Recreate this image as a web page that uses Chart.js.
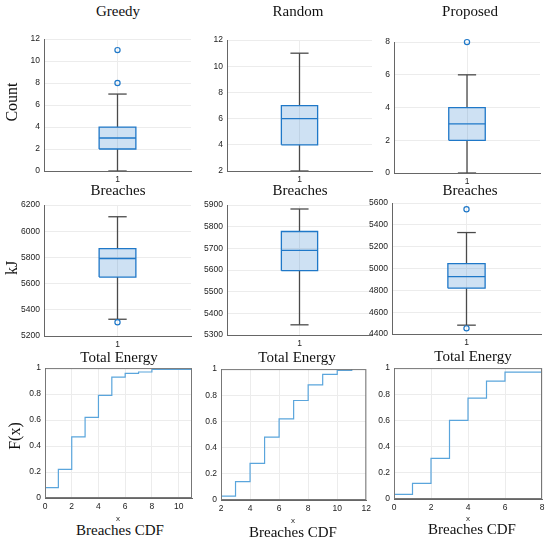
<!DOCTYPE html>
<html>
<head>
<meta charset="utf-8">
<script src="https://cdn.jsdelivr.net/npm/chart.js@4.4.1/dist/chart.umd.min.js"></script>
<style>
    body { margin: 0; background: #fff; width: 550px; height: 542px; position: relative; overflow: hidden;
           font-family: "Liberation Serif", "Times New Roman", serif; }
    canvas { position: absolute; }
    .lbl { position: absolute; transform: translate(-50%, -50%); font-size: 15px; color: #111; white-space: nowrap; }
    .ylbl { transform: translate(-50%, -50%) rotate(-90deg); font-size: 16px; }
    .small { font-family: "Liberation Sans", Arial, sans-serif; font-size: 8px; color: #262626; }
</style>
</head>
<body>
<script>
// Breaches (count) box plots: Greedy, Random, Proposed
const breachQ1 = [2, 4, 2];
const breachMedian = [3, 6, 3];
const breachQ3 = [4, 7, 4];
const breachLow = [0, 2, 0];
const breachHigh = [7, 11, 6];
const breachOutliers = [[8, 11], [], [8]];
const breachAxisMin = [0, 2, 0];
const breachAxisMax = [12, 12, 8];
const breachAxisStep = [2, 2, 2];

// Total energy (kJ) box plots
const energyQ1 = [5650, 5597, 4820];
const energyMedian = [5792, 5691, 4926];
const energyQ3 = [5867, 5778, 5046];
const energyLow = [5328, 5347, 4481];
const energyHigh = [6111, 5882, 5330];
const energyOutliers = [[5305], [], [5543, 4452]];
const energyAxisMin = [5200, 5300, 4400];
const energyAxisMax = [6200, 5900, 5600];
const energyAxisStep = [200, 100, 200];

// Breaches CDF (step points)
const cdfGreedyX = [0, 0, 1, 2, 3, 4, 5, 6, 7, 8, 11];
const cdfGreedyF = [0, 0.08, 0.22, 0.47, 0.62, 0.79, 0.93, 0.96, 0.97, 0.99, 1];
const cdfRandomX = [2, 2, 3, 4, 5, 6, 7, 8, 9, 10, 11];
const cdfRandomF = [0, 0.03, 0.14, 0.28, 0.48, 0.62, 0.76, 0.88, 0.96, 0.99, 1];
const cdfProposedX = [0, 0, 1, 2, 3, 4, 5, 6, 8];
const cdfProposedF = [0, 0.035, 0.12, 0.31, 0.6, 0.77, 0.9, 0.97, 1];
const cdfAxisMin = [0, 2, 0];
const cdfAxisMax = [11, 12, 8];

const BLUE = "#1f78c8";
const BOX_FILL = "rgba(31,120,200,0.22)";
const WHISKER = "#4a4a4a";
const CDF_LINE = "#5aa5dc";
const GRID = "#ececec";
const BOX_HALF = 0.125;
const CAP_HALF = 0.0625;

// canvas margins around the plot area
const PAD_L = 40, PAD_T = 8, PAD_R = 8, PAD_B = 16;

Chart.defaults.font.family = '"Liberation Sans", Arial, sans-serif';
Chart.defaults.font.size = 8.5;
Chart.defaults.color = "#222";

// plot areas [left, top, right, bottom] in page pixels
const boxRects = [
    [[44, 38, 191, 171], [227, 39, 372, 171], [394, 41, 540, 173]],
    [[44, 204, 191, 336], [227, 204, 372, 335], [392, 202, 541, 334]]
];
const cdfRects = [[45, 367, 192, 498], [221, 368, 367, 500], [394, 367, 542, 499]];

function addCanvas(rect) {
    const c = document.createElement("canvas");
    const w = rect[2] - rect[0] + PAD_L + PAD_R;
    const h = rect[3] - rect[1] + PAD_T + PAD_B;
    c.width = w;
    c.height = h;
    c.style.left = (rect[0] - PAD_L) + "px";
    c.style.top = (rect[1] - PAD_T) + "px";
    c.style.width = w + "px";
    c.style.height = h + "px";
    document.body.appendChild(c);
    return c;
}

function segment(points, color, width) {
    return { data: points, showLine: true, borderColor: color, borderWidth: width, pointRadius: 0, fill: false };
}

function boxDatasets(q1, med, q3, lo, hi, outliers) {
    const l = 1 - BOX_HALF, r = 1 + BOX_HALF, cl = 1 - CAP_HALF, cr = 1 + CAP_HALF;
    return [
        {
            data: outliers.map(v => ({ x: 1, y: v })),
            showLine: false, pointRadius: 2.6, pointBorderWidth: 1.2,
            pointBorderColor: BLUE, pointBackgroundColor: "rgba(0,0,0,0)", clip: false
        },
        segment([{ x: l, y: med }, { x: r, y: med }], BLUE, 1.4),
        {
            data: [{ x: l, y: q1 }, { x: r, y: q1 }, { x: r, y: q3 }, { x: l, y: q3 }, { x: l, y: q1 }],
            showLine: true, borderColor: BLUE, borderWidth: 1.3, pointRadius: 0,
            backgroundColor: BOX_FILL, fill: "shape"
        },
        segment([{ x: 1, y: q3 }, { x: 1, y: hi }], WHISKER, 1.3),
        segment([{ x: 1, y: q1 }, { x: 1, y: lo }], WHISKER, 1.3),
        segment([{ x: cl, y: hi }, { x: cr, y: hi }], WHISKER, 1.3),
        segment([{ x: cl, y: lo }, { x: cr, y: lo }], WHISKER, 1.3)
    ];
}

// draws the full axes box around CDF plots
const framePlugin = {
    id: "frame",
    afterDraw(chart, args, opts) {
        if (!opts.show) return;
        const a = chart.chartArea, ctx = chart.ctx;
        ctx.save();
        ctx.strokeStyle = "#777";
        ctx.lineWidth = 1;
        ctx.strokeRect(a.left + 0.5, a.top + 0.5, a.right - a.left - 1, a.bottom - a.top - 1);
        ctx.restore();
    }
};

function makeChart(rect, datasets, xOpts, yOpts, frame) {
    const canvas = addCanvas(rect);
    return new Chart(canvas, {
        type: "scatter",
        data: { datasets: datasets },
        options: {
            responsive: false,
            animation: false,
            layout: { padding: { left: 0, top: PAD_T, right: PAD_R, bottom: 0 } },
            plugins: { legend: { display: false }, tooltip: { enabled: false }, frame: { show: frame } },
            scales: {
                x: Object.assign({
                    type: "linear",
                    grid: { color: GRID, drawTicks: false },
                    border: { display: true, color: "#666" },
                    ticks: { padding: 4, maxRotation: 0 },
                    afterFit: s => { s.height = PAD_B; }
                }, xOpts),
                y: Object.assign({
                    type: "linear",
                    grid: { color: GRID, drawTicks: false },
                    border: { display: true, color: "#666" },
                    ticks: { padding: 4, callback: v => String(Math.round(v * 100) / 100) },
                    afterFit: s => { s.width = PAD_L; }
                }, yOpts)
            }
        },
        plugins: [framePlugin]
    });
}

const oneTick = { min: 0.5, max: 1.5, afterBuildTicks: s => { s.ticks = [{ value: 1 }]; } };

for (let i = 0; i < 3; i++) {
    makeChart(boxRects[0][i],
        boxDatasets(breachQ1[i], breachMedian[i], breachQ3[i], breachLow[i], breachHigh[i], breachOutliers[i]),
        oneTick,
        { min: breachAxisMin[i], max: breachAxisMax[i],
          ticks: { padding: 4, stepSize: breachAxisStep[i], callback: v => String(v) } },
        false);
    makeChart(boxRects[1][i],
        boxDatasets(energyQ1[i], energyMedian[i], energyQ3[i], energyLow[i], energyHigh[i], energyOutliers[i]),
        oneTick,
        { min: energyAxisMin[i], max: energyAxisMax[i],
          ticks: { padding: 4, stepSize: energyAxisStep[i], callback: v => String(v) } },
        false);
}

const cdfX = [cdfGreedyX, cdfRandomX, cdfProposedX];
const cdfF = [cdfGreedyF, cdfRandomF, cdfProposedF];
for (let i = 0; i < 3; i++) {
    const pts = cdfX[i].map((x, k) => ({ x: x, y: cdfF[i][k] }));
    makeChart(cdfRects[i],
        [{ data: pts, showLine: true, stepped: true, borderColor: CDF_LINE, borderWidth: 1.2, pointRadius: 0, fill: false }],
        { min: cdfAxisMin[i], max: cdfAxisMax[i],
          ticks: { padding: 4, stepSize: 2, maxRotation: 0, includeBounds: false } },
        { min: 0, max: 1, ticks: { padding: 4, stepSize: 0.2, callback: v => String(Math.round(v * 10) / 10) } },
        true);
}

// text labels
const labels = [
    ["Greedy", 118, 11], ["Random", 298, 11], ["Proposed", 470, 11],
    ["Breaches", 118, 190], ["Breaches", 300, 190], ["Breaches", 470, 190],
    ["Total Energy", 119, 357], ["Total Energy", 297, 357], ["Total Energy", 473, 356],
    ["Breaches CDF", 120, 530], ["Breaches CDF", 293, 532], ["Breaches CDF", 472, 529]
];
labels.forEach(([t, x, y]) => {
    const d = document.createElement("div");
    d.className = "lbl";
    d.textContent = t;
    d.style.left = x + "px";
    d.style.top = y + "px";
    document.body.appendChild(d);
});
[["x", 118, 518], ["x", 293, 520], ["x", 468, 518]].forEach(([t, x, y]) => {
    const d = document.createElement("div");
    d.className = "lbl small";
    d.textContent = t;
    d.style.left = x + "px";
    d.style.top = y + "px";
    document.body.appendChild(d);
});
[["Count", 12, 102], ["kJ", 12, 268], ["F(x)", 15, 436]].forEach(([t, x, y]) => {
    const d = document.createElement("div");
    d.className = "lbl ylbl";
    d.textContent = t;
    d.style.left = x + "px";
    d.style.top = y + "px";
    document.body.appendChild(d);
});
</script>
</body>
</html>
